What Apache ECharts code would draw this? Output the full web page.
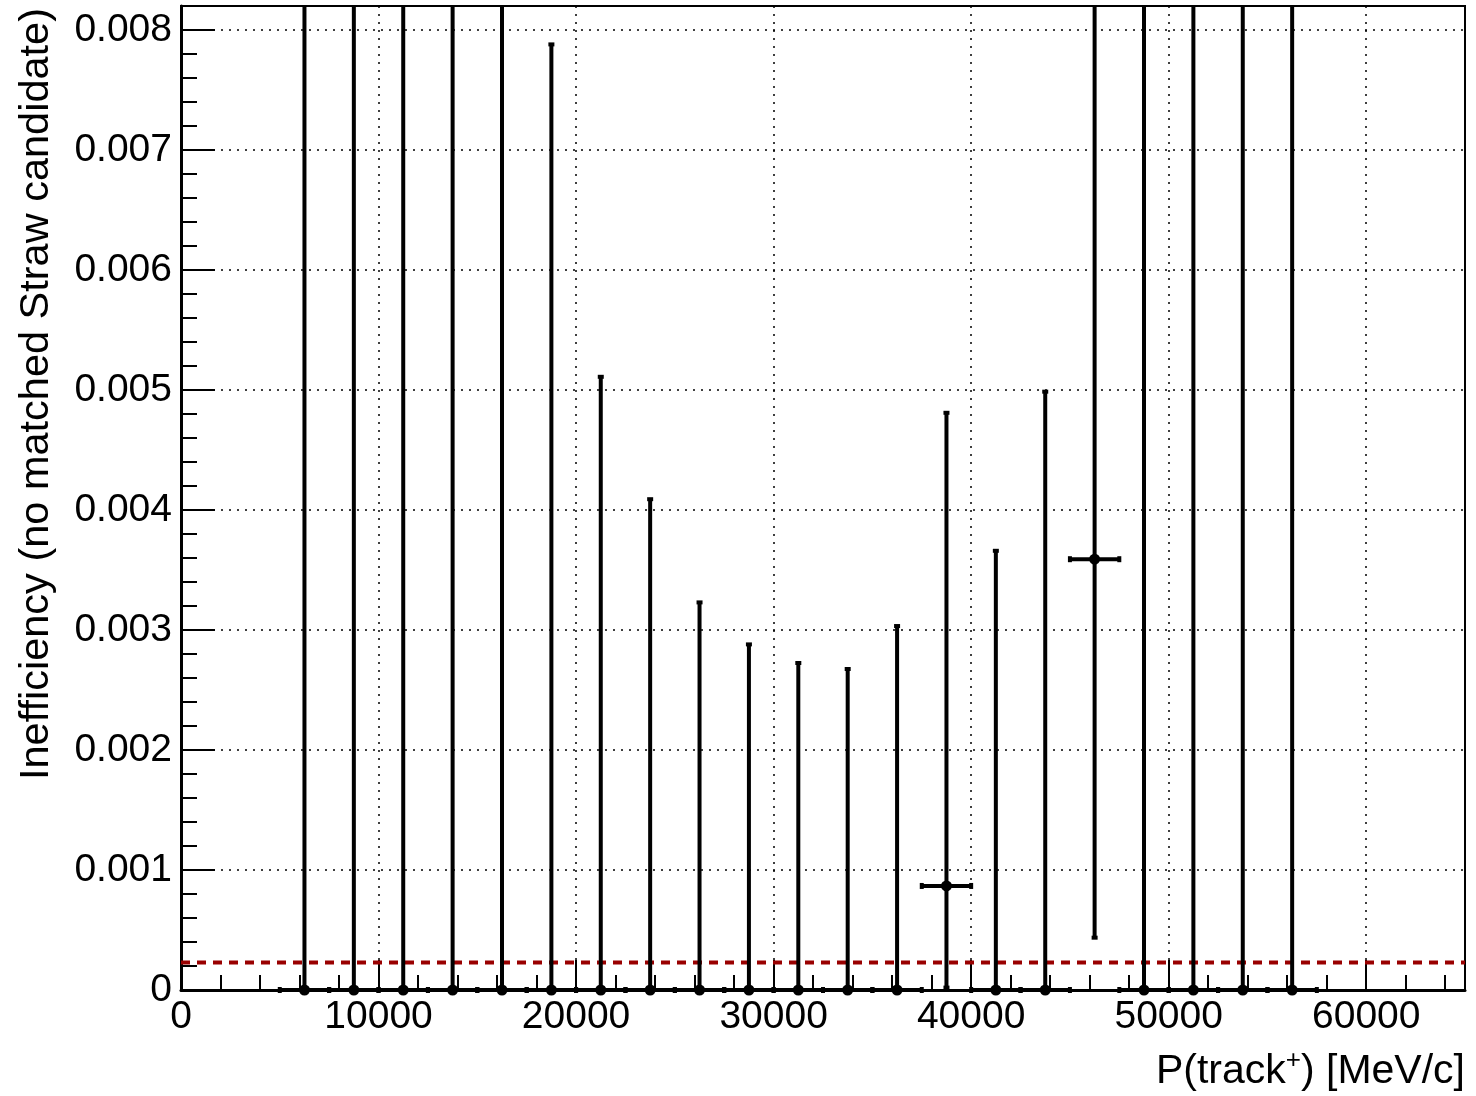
<!DOCTYPE html>
<html>
<head>
<meta charset="utf-8">
<script src="https://cdn.jsdelivr.net/npm/echarts@6/dist/echarts.min.js"></script>
<style>
  html, body { margin: 0; padding: 0; background: #fff; }
  #chart { width: 1476px; height: 1096px; }
</style>
</head>
<body>
<div id="chart"></div>
<script>
// bin centres of P(track+) [MeV/c], each bin is 2500 wide
const binCenters = [6250, 8750, 11250, 13750, 16250, 18750, 21250, 23750, 26250, 28750, 31250,
  33750, 36250, 38750, 41250, 43750, 46250, 48750, 51250, 53750, 56250]
const binHalfWidth = 1250
const inefficiency = [0, 0, 0, 0, 0, 0, 0, 0, 0, 0, 0,
  0, 0, 0.000867, 0, 0, 0.00359, 0, 0, 0, 0]
// lower / upper edges of the error bars
const lowerEdge = [0, 0, 0, 0, 0, 0, 0, 0, 0, 0, 0,
  0, 0, 0.00002, 0, 0, 0.000436, 0, 0, 0, 0]
const upperEdge = [0.0602, 0.0334, 0.0215, 0.0152, 0.0113, 0.00788, 0.00511, 0.00409, 0.00323, 0.00288, 0.002725,
  0.002675, 0.003033, 0.00481, 0.00366, 0.004986, 0.0114, 0.0135, 0.0208, 0.0369, 0.0842]
// reference level (red dashed line) across the whole range
const threshold = 0.00023
const thresholdRange = [0, 65000]

const FONT = 'Liberation Sans, Arial, Helvetica, sans-serif'

const points = binCenters.map((x, i) => [x, inefficiency[i], lowerEdge[i], upperEdge[i], binHalfWidth])

function renderItem (params, api) {
  const cs = params.coordSys
  const x = api.value(0)
  const y = api.value(1)
  const hw = api.value(4)
  const p = api.coord([x, y])
  const pLo = api.coord([x, api.value(2)])
  const pHi = api.coord([x, api.value(3)])
  const pL = api.coord([x - hw, y])
  const pR = api.coord([x + hw, y])
  const style = { stroke: '#000', lineWidth: 4 }
  const cap = 3
  let topY = pHi[1]
  const clipped = topY < cs.y
  if (clipped) topY = cs.y
  const children = [
    { type: 'line', shape: { x1: p[0], y1: pLo[1], x2: p[0], y2: topY }, style: style },
    { type: 'line', shape: { x1: pL[0], y1: p[1], x2: pR[0], y2: p[1] }, style: style },
    { type: 'line', shape: { x1: pL[0], y1: p[1] - cap, x2: pL[0], y2: p[1] + cap }, style: style },
    { type: 'line', shape: { x1: pR[0], y1: p[1] - cap, x2: pR[0], y2: p[1] + cap }, style: style }
  ]
  if (!clipped) {
    children.push({ type: 'line', shape: { x1: p[0] - cap, y1: topY, x2: p[0] + cap, y2: topY }, style: style })
  }
  if (pLo[1] < cs.y + cs.height - 1) {
    children.push({ type: 'line', shape: { x1: p[0] - cap, y1: pLo[1], x2: p[0] + cap, y2: pLo[1] }, style: style })
  }
  children.push({ type: 'circle', shape: { cx: p[0], cy: p[1], r: 5.5 }, style: { fill: '#000' } })
  return { type: 'group', children: children }
}

const chart = echarts.init(document.getElementById('chart'))

const dotted = { color: '#000', width: 1.5, type: [2, 6] }

const option = {
  animation: false,
  backgroundColor: '#fff',
  textStyle: { fontFamily: FONT },
  grid: {
    left: 181,
    right: 11,
    top: 6,
    bottom: 106,
    show: true,
    borderColor: '#000',
    borderWidth: 2,
    backgroundColor: 'transparent'
  },
  xAxis: [
    {
      type: 'value',
      position: 'bottom',
      min: 0,
      max: 65000,
      interval: 10000,
      axisLine: { lineStyle: { color: '#000', width: 3 } },
      axisTick: { inside: true, length: 30, lineStyle: { color: '#000', width: 2 } },
      axisLabel: {
        color: '#000',
        fontSize: 39,
        fontFamily: FONT,
        margin: 8,
        showMaxLabel: false,
        formatter: function (v) { return String(v) }
      },
      splitLine: { show: true, lineStyle: dotted }
    },
    {
      type: 'value',
      position: 'bottom',
      min: 0,
      max: 65000,
      interval: 2000,
      axisLine: { show: false },
      axisTick: { inside: true, length: 15, lineStyle: { color: '#000', width: 2 } },
      axisLabel: { show: false },
      splitLine: { show: false }
    }
  ],
  yAxis: [
    {
      type: 'value',
      position: 'left',
      min: 0,
      max: 0.0082,
      interval: 0.001,
      axisLine: { show: true, lineStyle: { color: '#000', width: 3 } },
      axisTick: { show: true, inside: true, length: 34, lineStyle: { color: '#000', width: 2 } },
      axisLabel: {
        color: '#000',
        fontSize: 39,
        fontFamily: FONT,
        margin: 9,
        showMaxLabel: false,
        formatter: function (v) {
          if (v === 0) return '0'
          const k = v * 1000
          if (Math.abs(k - Math.round(k)) > 1e-6) return ''
          return v.toFixed(3)
        }
      },
      splitLine: { show: true, lineStyle: dotted }
    },
    {
      type: 'value',
      position: 'left',
      min: 0,
      max: 0.0082,
      interval: 0.0002,
      axisLine: { show: false },
      axisTick: { show: true, inside: true, length: 16, lineStyle: { color: '#000', width: 2 } },
      axisLabel: { show: false },
      splitLine: { show: false }
    }
  ],
  graphic: [
    {
      type: 'text',
      x: 37,
      y: 8,
      rotation: Math.PI / 2,
      style: {
        text: 'Inefficiency (no matched Straw candidate)',
        font: '41.5px ' + FONT,
        fill: '#000',
        align: 'right',
        verticalAlign: 'middle'
      }
    },
    {
      type: 'text',
      x: 1465,
      y: 1070,
      style: {
        text: '{n|P(track}{s|+}{n|) [MeV/c]}',
        fill: '#000',
        align: 'right',
        verticalAlign: 'middle',
        rich: {
          n: { fontSize: 41, fontFamily: FONT, fill: '#000', lineHeight: 44, verticalAlign: 'bottom' },
          s: { fontSize: 26, fontFamily: FONT, fill: '#000', lineHeight: 44, verticalAlign: 'top' }
        }
      }
    }
  ],
  series: [
    {
      type: 'line',
      xAxisIndex: 0,
      yAxisIndex: 0,
      data: thresholdRange.map(x => [x, threshold]),
      showSymbol: false,
      symbol: 'none',
      silent: true,
      lineStyle: { color: '#990000', width: 4, type: [9, 7] },
      z: 3
    },
    {
      type: 'custom',
      xAxisIndex: 0,
      yAxisIndex: 0,
      renderItem: renderItem,
      encode: { x: 0, y: 1 },
      data: points,
      z: 5
    }
  ]
}

chart.setOption(option)
</script>
</body>
</html>
